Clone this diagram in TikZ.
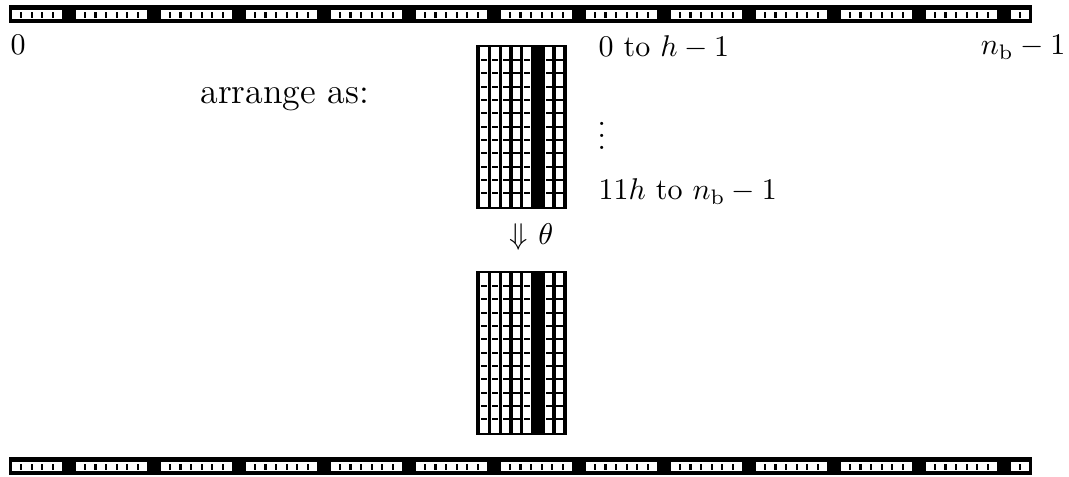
\documentclass[tikz,border=0pt]{standalone}
\tikzset{
  blk/.style={fill=black},
  wht/.style={fill=white},
  lbl/.style={inner sep=0pt, anchor=base west},
}
\newcommand\drawstrip[1]{%
  \fill[blk] (9,#1) rectangle (1032,#1+18.5);
  \pgfmathsetmacro\wt{#1+5.5}%
  \pgfmathsetmacro\wb{#1+14}%
  \def\p{10.625}%
  \fill[wht] ({10.5+1.6},\wt) rectangle ({10.5+5*\p-1.6},\wb);
  \foreach \r in {0,...,10} {
    \fill[wht] ({10.5+(8*\r+6)*\p+1.6},\wt) rectangle ({10.5+(8*\r+13)*\p-1.6},\wb);
  }
  \fill[wht] ({10.5+94*\p+1.6},\wt) rectangle ({10.5+96*\p-1.6},\wb);
  \foreach \k in {0,...,94} {
    \pgfmathtruncatemacro\m{mod(\k,8)}%
    \ifnum\m=4 \else\ifnum\m=5 \else
      \fill[blk] ({10.5+(\k+1)*\p-1.1},\wt+1.1) rectangle ({10.5+(\k+1)*\p+1.1},\wb-1.1);
    \fi\fi
  }
}
\newcommand\drawgrid[1]{%
  \fill[blk] (476,#1-2) rectangle (567.3,#1+162.8);
  \foreach \j in {0,1,2,3,4,6,7} {
    \fill[wht] ({480.3+10.75*\j},#1) rectangle ({487.9+10.75*\j},#1+160);
    \foreach \i in {1,...,11} {
      \fill[blk] ({481+10.75*\j},{#1+13.333*\i-1.1}) rectangle ({487.3+10.75*\j},{#1+13.333*\i+1.1});
    }
  }
}
\begin{document}
\begin{tikzpicture}[x=0.33333pt,y=-0.33333pt]
\useasboundingbox (0,0) rectangle (1069,477);
\drawstrip{5}
\drawstrip{457}
\drawgrid{46.67}
\drawgrid{272.7}
\node[lbl] (zero) at (10,55) {0};
\node[inner sep=0pt, anchor=base east] (last) at (1066,55) {$n_{\mathrm{b}}-1$};
\node[lbl] (arr) at (200,104) {\fontsize{12}{14}\selectfont arrange as:};
\node[lbl] (first) at (598,57) {0 to $h-1$};
\node[lbl] (dots) at (597,150) {$\vdots$};
\node[lbl] (lastrow) at (598,200) {$11h$ to $n_{\mathrm{b}}-1$};
\node[lbl] (theta) at (509,245) {$\Downarrow\mkern1.2mu\theta$};
\end{tikzpicture}
\end{document}
